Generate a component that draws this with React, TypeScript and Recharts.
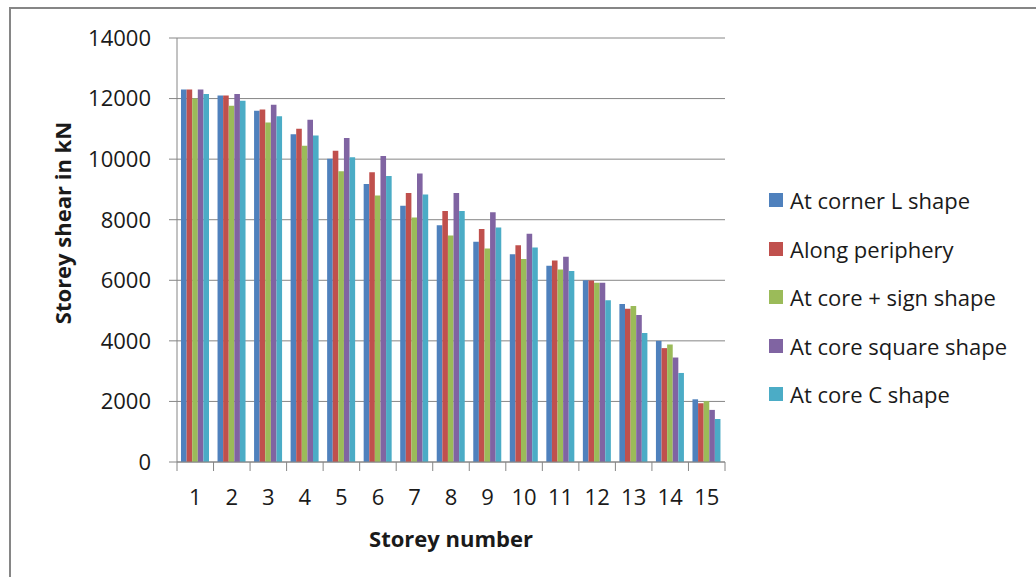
import React from "react";
import { BarChart, Bar, XAxis, YAxis, CartesianGrid, Legend } from "recharts";

const STOREYS = ["1", "2", "3", "4", "5", "6", "7", "8", "9", "10", "11", "12", "13", "14", "15"];

const cornerL = [12300, 12100, 11600, 10820, 10010, 9180, 8460, 7820, 7270, 6860, 6480, 6000, 5220, 4000, 2070];
const periphery = [12300, 12100, 11640, 11000, 10280, 9570, 8880, 8290, 7690, 7160, 6650, 5990, 5060, 3760, 1940];
const plusSign = [12000, 11760, 11210, 10440, 9600, 8800, 8070, 7480, 7050, 6700, 6360, 5920, 5150, 3880, 2010];
const square = [12300, 12150, 11800, 11300, 10700, 10100, 9530, 8880, 8250, 7540, 6780, 5920, 4850, 3450, 1720];
const cShape = [12150, 11930, 11420, 10780, 10060, 9440, 8830, 8290, 7740, 7080, 6310, 5340, 4260, 2940, 1420];

const Y_TICKS = [0, 2000, 4000, 6000, 8000, 10000, 12000, 14000];

const SERIES = [
  { key: "cornerL", name: "At corner L shape", color: "#4F81BD", values: cornerL },
  { key: "periphery", name: "Along periphery", color: "#C0504D", values: periphery },
  { key: "plusSign", name: "At core + sign shape", color: "#9BBB59", values: plusSign },
  { key: "square", name: "At core square shape", color: "#8064A2", values: square },
  { key: "cShape", name: "At core C shape", color: "#4BACC6", values: cShape },
];

const data = STOREYS.map((storey, i) => {
  const row: Record<string, string | number> = { storey };
  SERIES.forEach((s) => {
    row[s.key] = s.values[i];
  });
  return row;
});

const FONT = "'Open Sans', sans-serif";
const TEXT = "#1a1a1a";
const LINE = "#868686";
const PLOT_LEFT = 177;
const PLOT_RIGHT = 725;
const BAND = (PLOT_RIGHT - PLOT_LEFT) / STOREYS.length;

// category labels centred, tick marks on the category boundaries (Excel style)
const StoreyTick = (props: any) => {
  const { x, y, payload, index } = props;
  const left = x - BAND / 2;
  const right = x + BAND / 2;
  return (
    <g>
      <line x1={left} y1={y} x2={left} y2={y + 9} stroke={LINE} />
      {index === STOREYS.length - 1 && <line x1={right} y1={y} x2={right} y2={y + 9} stroke={LINE} />}
      <text x={x} y={y + 43} textAnchor="middle" fontSize={22} fontFamily={FONT} fill={TEXT}>
        {payload.value}
      </text>
    </g>
  );
};

// keep the series order (recharts sorts legend items by name otherwise)
const LegendBox = () => (
  <div style={{ fontFamily: FONT }}>
    {SERIES.map((s) => (
      <div key={s.key} style={{ display: "flex", alignItems: "center", height: 48.5 }}>
        <span style={{ width: 14, height: 14, background: s.color, marginRight: 7, display: "inline-block" }} />
        <span style={{ fontSize: 22, color: TEXT, whiteSpace: "nowrap" }}>{s.name}</span>
      </div>
    ))}
  </div>
);

export default function App() {
  return (
    <div style={{ position: "absolute", left: 0, top: 0, width: 1036, height: 577, background: "#fff", overflow: "hidden" }}>
      <div
        style={{
          position: "absolute",
          left: 9,
          top: 7,
          width: 1040,
          height: 600,
          borderTop: `2px solid ${LINE}`,
          borderLeft: `2px solid ${LINE}`,
        }}
      />
      <BarChart
        width={1036}
        height={577}
        data={data}
        margin={{ top: 38, right: 1036 - PLOT_RIGHT, bottom: 0, left: 0 }}
        barGap={0}
        style={{ position: "absolute", left: 0, top: 0 }}
      >
        <CartesianGrid vertical={false} stroke={LINE} />
        <XAxis
          dataKey="storey"
          height={115}
          tickSize={0}
          tickMargin={0}
          axisLine={{ stroke: LINE }}
          tickLine={false}
          interval={0}
          tick={<StoreyTick />}
          label={{
            value: "Storey number",
            position: "insideTop",
            offset: 69,
            fontSize: 22,
            fontWeight: 700,
            fontFamily: FONT,
            fill: TEXT,
          }}
        />
        <YAxis
          width={PLOT_LEFT}
          domain={[0, 14000]}
          ticks={Y_TICKS}
          interval={0}
          tickSize={8}
          tickMargin={18}
          axisLine={{ stroke: LINE }}
          tickLine={{ stroke: LINE }}
          tick={{ fontSize: 22, fontFamily: FONT, fill: TEXT }}
          label={() => (
            <text
              transform="translate(62,223) rotate(-90)"
              textAnchor="middle"
              dominantBaseline="central"
              fontSize={22}
              fontWeight={700}
              fontFamily={FONT}
              fill={TEXT}
            >
              Storey shear in kN
            </text>
          )}
        />
        <Legend
          layout="vertical"
          align="center"
          verticalAlign="middle"
          content={<LegendBox />}
          wrapperStyle={{ left: 769, top: 176, width: 267 }}
        />
        {SERIES.map((s) => (
          <Bar key={s.key} dataKey={s.key} name={s.name} fill={s.color} barSize={5.6} isAnimationActive={false} />
        ))}
      </BarChart>
    </div>
  );
}
